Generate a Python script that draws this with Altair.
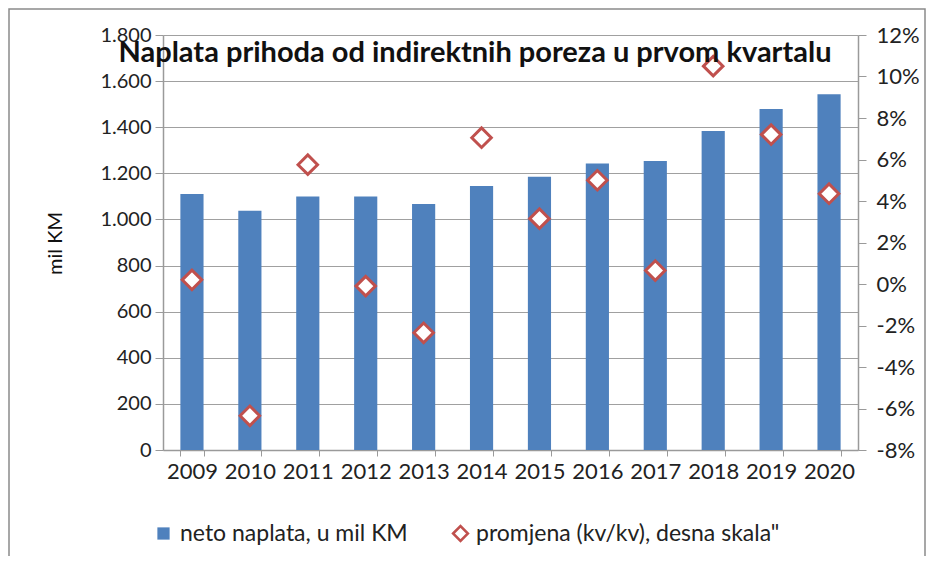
import altair as alt
import pandas as pd

years = ["2009", "2010", "2011", "2012", "2013", "2014", "2015", "2016", "2017", "2018", "2019", "2020"]
neto = [1110, 1038, 1099, 1099, 1067, 1145, 1185, 1243, 1253, 1384, 1479, 1543]
promjena = [0.2, -6.35, 5.75, -0.1, -2.35, 7.05, 3.15, 5.0, 0.65, 10.5, 7.2, 4.35]

bar_label = "neto naplata, u mil KM"
pt_label = 'promjena (kv/kv), desna skala"'
title_text = "Naplata prihoda od indirektnih poreza u prvom kvartalu"

df = pd.DataFrame({"year": years, "neto": neto, "promjena": promjena,
                   "s1": [bar_label] * len(years), "s2": [pt_label] * len(years)})

FONT = "Lato"
W, H = 695, 415
PAD_L, PAD_T = 155, 27
TOTAL_W, TOTAL_H = 918, 548

x = alt.X("year:N", title=None, sort=years,
          scale=alt.Scale(paddingInner=0.6, paddingOuter=0.3),
          axis=alt.Axis(labelAngle=0, tickBand="extent", labelFontSize=22, labelColor="#222222",
                        labelFont=FONT, labelPadding=5, domainColor="#9a9a9a", tickColor="#9a9a9a",
                        tickSize=6, domainWidth=1.5))

bars = alt.Chart(df).mark_bar(color="#4F81BD").encode(
    x=x,
    y=alt.Y("neto:Q", title="mil KM",
            scale=alt.Scale(domain=[0, 1800], nice=False),
            axis=alt.Axis(values=list(range(0, 1801, 200)), grid=True, gridColor="#a0a0a0",
                          gridWidth=1, labelExpr="replace(format(datum.value, ','), ',', '.')",
                          labelFontSize=20, labelColor="#222222", labelFont=FONT, tickSize=8,
                          tickColor="#9a9a9a", domainColor="#9a9a9a", domainWidth=1.5,
                          labelPadding=4, titleFont=FONT, titleFontSize=20,
                          titleFontWeight="normal", titleColor="#111111",
                          titleX=-98, titleY=208, titleAngle=-90)),
    color=alt.Color("s1:N", scale=alt.Scale(domain=[bar_label], range=["#4F81BD"]),
                    legend=alt.Legend(title=None, orient="none", legendX=-11, legendY=487,
                                      symbolType="square", symbolSize=150, labelFontSize=23,
                                      labelFont=FONT, labelColor="#222222", labelOffset=5,
                                      labelLimit=0, padding=0)),
)

points = alt.Chart(df).mark_point(shape="diamond", filled=False, fill="white", size=380,
                                  strokeWidth=3, opacity=1).encode(
    x=x,
    y=alt.Y("promjena:Q", title=None,
            scale=alt.Scale(domain=[-8, 12], nice=False),
            axis=alt.Axis(orient="right", values=list(range(-8, 13, 2)), grid=False,
                          labelExpr="datum.value + '%'", labelFontSize=22, labelColor="#222222",
                          labelFont=FONT, tickSize=8, tickColor="#9a9a9a", domainColor="#9a9a9a",
                          domainWidth=1.5, labelPadding=10)),
    stroke=alt.Stroke("s2:N", scale=alt.Scale(domain=[pt_label], range=["#C0504D"]),
                      legend=alt.Legend(title=None, orient="none", legendX=286, legendY=487,
                                        symbolType="diamond", symbolSize=220, symbolFillColor="white",
                                        symbolStrokeWidth=2.5, labelFontSize=23, labelFont=FONT,
                                        labelColor="#222222", labelOffset=4, labelLimit=0, padding=0)),
)

title = alt.Chart(pd.DataFrame({"t": [title_text]})).mark_text(
    font=FONT, fontSize=29, fontWeight="bold", color="#111111", align="center", baseline="alphabetic"
).encode(text="t:N", x=alt.value(312), y=alt.value(27))

frame = alt.Chart(pd.DataFrame({"a": [0]})).mark_rect(
    fill=None, stroke="#8a8a8a", strokeWidth=1.5
).encode(x=alt.value(-154), x2=alt.value(TOTAL_W - PAD_L - 1), y=alt.value(-26), y2=alt.value(TOTAL_H - PAD_T + 10))

chart = alt.layer(frame, bars, points, title).resolve_scale(y="independent", color="independent").properties(
    width=W, height=H,
    autosize=alt.AutoSizeParams(type="none"),
    padding={"left": PAD_L, "top": PAD_T, "right": TOTAL_W - PAD_L - W, "bottom": TOTAL_H - PAD_T - H},
    background="white",
).configure_view(stroke=None)

chart.save("out.html", embed_options={"renderer": "svg", "actions": False})
